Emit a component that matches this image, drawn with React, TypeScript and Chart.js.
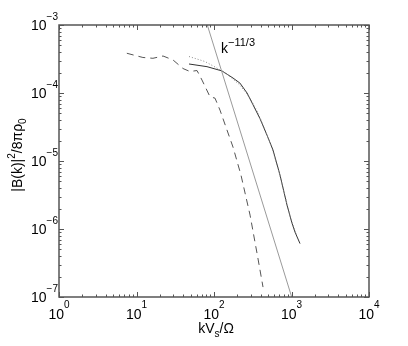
import React, { useEffect, useRef } from "react";
import { Chart, registerables } from "chart.js";

Chart.register(...registerables);

// kV_s/Ω values and |B(k)|^2/8πρ0 values
const dashedX = [7.5, 12.1, 16.3, 22, 29.6, 39.8, 49, 60.4, 70, 88.8, 103, 119.5, 147, 176, 223, 292, 359, 429];
const dashedY = [3.84e-4, 3.33e-4, 3.24e-4, 3.5e-4, 3.06e-4, 2.29e-4, 2.07e-4, 2.14e-4, 1.55e-4, 8.8e-5, 8.4e-5, 5.6e-5, 2.86e-5, 1.6e-5, 6.2e-6, 1.6e-6, 4.4e-7, 1.4e-7];

const solidX = [47.6, 81.2, 126.8, 176, 216, 267, 319, 392, 483, 577, 711, 875, 1015, 1110, 1288];
const solidY = [2.67e-4, 2.44e-4, 2.11e-4, 1.66e-4, 1.4e-4, 1.0e-4, 6.7e-5, 4.2e-5, 2.4e-5, 1.45e-5, 6.2e-6, 2.25e-6, 1.22e-6, 9.0e-7, 6.1e-7];

const dottedX = [47.6, 76.6, 109, 152, 216, 292, 370, 455, 560, 690, 849, 986, 1178];
const dottedY = [3.44e-4, 2.9e-4, 2.33e-4, 1.84e-4, 1.31e-4, 8.4e-5, 5.1e-5, 2.86e-5, 1.55e-5, 6.9e-6, 2.67e-6, 1.36e-6, 7.9e-7];

// k^-11/3 reference line end points
const refX = [82, 1006];
const refY = [1e-3, 1e-7];

const xExponents = [0, 1, 2, 3, 4];
const yExponents = [-7, -6, -5, -4, -3];

const FONT = "'Liberation Sans', Arial, Helvetica, sans-serif";
const MINUS = "\u2212";

function pts(xs: number[], ys: number[]) {
  return xs.map((x, i) => ({ x, y: ys[i] }));
}

function expText(e: number) {
  return e < 0 ? MINUS + String(-e) : String(e);
}

const axesPlugin = {
  id: "matlabAxes",
  afterDraw(chart: any) {
    const ctx = chart.ctx as CanvasRenderingContext2D;
    const xs = chart.scales.x;
    const ys = chart.scales.y;
    const { left, right, top, bottom } = chart.chartArea;
    ctx.save();
    // ticks
    ctx.strokeStyle = "#555";
    ctx.lineWidth = 1;
    const major = 5;
    const minor = 2.5;
    ctx.beginPath();
    for (let e = xExponents[0]; e <= xExponents[xExponents.length - 1]; e++) {
      for (let m = 1; m <= 9; m++) {
        const v = m * Math.pow(10, e);
        if (v > Math.pow(10, xExponents[xExponents.length - 1])) break;
        const px = Math.round(xs.getPixelForValue(v)) + 0.5;
        const len = m === 1 ? major : minor;
        ctx.moveTo(px, bottom);
        ctx.lineTo(px, bottom - len);
        ctx.moveTo(px, top);
        ctx.lineTo(px, top + len);
      }
    }
    for (let e = yExponents[0]; e <= yExponents[yExponents.length - 1]; e++) {
      for (let m = 1; m <= 9; m++) {
        const v = m * Math.pow(10, e);
        if (v > Math.pow(10, yExponents[yExponents.length - 1]) * 1.0001) break;
        const py = Math.round(ys.getPixelForValue(v)) + 0.5;
        const len = m === 1 ? major : minor;
        ctx.moveTo(left, py);
        ctx.lineTo(left + len, py);
        ctx.moveTo(right, py);
        ctx.lineTo(right - len, py);
      }
    }
    ctx.stroke();
    // frame
    ctx.strokeStyle = "#555";
    ctx.lineWidth = 1.5;
    ctx.strokeRect(left, top, right - left, bottom - top);

    ctx.fillStyle = "#000";
    ctx.textBaseline = "alphabetic";
    const big = `14px ${FONT}`;
    const small = `10px ${FONT}`;
    // x tick labels
    xExponents.forEach((e) => {
      const px = xs.getPixelForValue(Math.pow(10, e));
      ctx.font = big;
      const w1 = ctx.measureText("10").width;
      ctx.font = small;
      const t = expText(e);
      const w2 = ctx.measureText(t).width;
      const x0 = px - (w1 + w2) / 2;
      ctx.font = big;
      ctx.textAlign = "left";
      ctx.fillText("10", x0, bottom + 22);
      ctx.font = small;
      ctx.fillText(t, x0 + w1, bottom + 11);
    });
    // y tick labels
    yExponents.forEach((e) => {
      const py = ys.getPixelForValue(Math.pow(10, e));
      ctx.font = small;
      const t = expText(e);
      const w2 = ctx.measureText(t).width;
      ctx.font = big;
      const w1 = ctx.measureText("10").width;
      const xr = left - 1;
      ctx.textAlign = "left";
      ctx.fillText("10", xr - w2 - w1, py + 5);
      ctx.font = small;
      ctx.fillText(t, xr - w2, py - 5);
    });
    // x title: kV_s/Ω
    {
      const parts = [
        { t: "kV", f: big, dy: 0 },
        { t: "s", f: small, dy: 4 },
        { t: "/\u03A9", f: big, dy: 0 },
      ];
      let total = 0;
      parts.forEach((p) => { ctx.font = p.f; total += ctx.measureText(p.t).width; });
      let x = (left + right) / 2 - total / 2 + 2;
      const base = 333;
      parts.forEach((p) => {
        ctx.font = p.f;
        ctx.fillText(p.t, x, base + p.dy);
        x += ctx.measureText(p.t).width;
      });
    }
    // y title: |B(k)|^2/8πρ0
    {
      const parts = [
        { t: "|B(k)|", f: big, dy: 0 },
        { t: "2", f: small, dy: -7 },
        { t: "/8\u03C0\u03C1", f: big, dy: 0 },
        { t: "0", f: small, dy: 4 },
      ];
      let total = 0;
      parts.forEach((p) => { ctx.font = p.f; total += ctx.measureText(p.t).width; });
      ctx.save();
      ctx.translate(22, 155);
      ctx.rotate(-Math.PI / 2);
      let x = -total / 2;
      parts.forEach((p) => {
        ctx.font = p.f;
        ctx.fillText(p.t, x, p.dy);
        x += ctx.measureText(p.t).width;
      });
      ctx.restore();
    }
    // annotation k^-11/3
    ctx.font = big;
    ctx.fillText("k", 221, 53);
    const kw = ctx.measureText("k").width;
    ctx.font = `11px ${FONT}`;
    ctx.fillText(MINUS + "11/3", 221 + kw, 46);
    ctx.restore();
  },
};

export default function App() {
  const ref = useRef<HTMLCanvasElement | null>(null);
  useEffect(() => {
    if (!ref.current) return;
    const chart = new Chart(ref.current, {
      type: "scatter",
      data: {
        datasets: [
          {
            data: pts(refX, refY),
            showLine: true,
            borderColor: "#9a9a9a",
            borderWidth: 1,
            pointRadius: 0,
          },
          {
            data: pts(dottedX, dottedY),
            showLine: true,
            borderColor: "#8a8a8a",
            borderWidth: 1,
            borderDash: [1, 2],
            pointRadius: 0,
          },
          {
            data: pts(dashedX, dashedY),
            showLine: true,
            borderColor: "#555",
            borderWidth: 1,
            borderDash: [7, 5],
            pointRadius: 0,
          },
          {
            data: pts(solidX, solidY),
            showLine: true,
            borderColor: "#333",
            borderWidth: 1,
            pointRadius: 0,
          },
        ],
      },
      options: {
        responsive: false,
        animation: false,
        events: [],
        layout: { padding: { left: 59, top: 25, right: 39, bottom: 49 } },
        plugins: { legend: { display: false }, tooltip: { enabled: false } },
        scales: {
          x: { type: "logarithmic", min: 1, max: 1e4, display: false },
          y: { type: "logarithmic", min: 1e-7, max: 1e-3, display: false },
        },
      },
      plugins: [axesPlugin],
    });
    return () => chart.destroy();
  }, []);
  return (
    <div style={{ position: "fixed", left: 0, top: 0, width: 408, height: 346, background: "#fff" }}>
      <canvas ref={ref} width={408} height={346} style={{ width: 408, height: 346, display: "block" }} />
    </div>
  );
}
